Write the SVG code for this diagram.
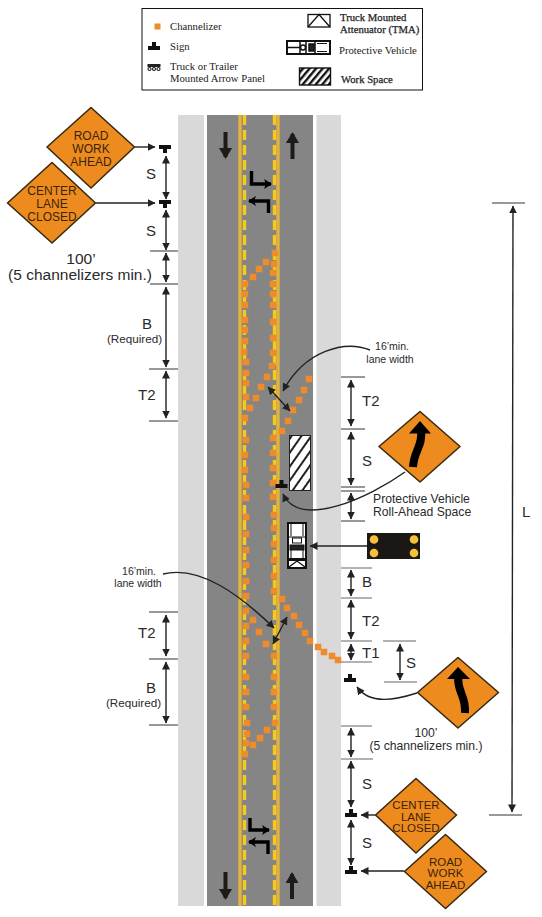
<svg xmlns="http://www.w3.org/2000/svg" width="542" height="917" viewBox="0 0 542 917">
<style>
text{font-family:"Liberation Sans",Arial,sans-serif;fill:#2a2a2a}
.lg{font-family:"Liberation Serif","Times New Roman",serif;font-size:10.7px;fill:#222}
.lgb{stroke:#222;stroke-width:.25}
.d{font-size:15px}
.m{font-size:15.5px;text-anchor:middle}
.s{font-size:12.2px}
.t{font-size:10.5px;text-anchor:middle}
.r{font-size:11.7px;text-anchor:middle}
.sg{font-size:12px;text-anchor:middle;fill:#3a2408}
.sg2{font-size:11.5px;text-anchor:middle;fill:#3a2408}
.dia{fill:#ee8b1f;stroke:#3a2a10;stroke-width:1.6;stroke-linejoin:round}
.tick{stroke:#333;stroke-width:1;fill:none}
.tg{stroke:#666;stroke-width:1;fill:none}
.dim{stroke:#222;stroke-width:1.4;fill:none;marker-start:url(#a);marker-end:url(#a)}
.lead{stroke:#222;stroke-width:1.4;fill:none;marker-end:url(#a)}
.big{stroke:#1d1a18;stroke-width:4;fill:none;marker-end:url(#b)}
.turn{stroke:#000;stroke-width:3.4;fill:none;marker-end:url(#c2)}
.solid{stroke:#e2b33c;stroke-width:3.4}
.dash{stroke:#f6c91a;stroke-width:3.4;stroke-dasharray:10 5}
.ch{fill:#ee8b2a}
</style>
<defs>
<marker id="a" viewBox="0 0 8 9" refX="7.500" refY="4.500" markerUnits="userSpaceOnUse" markerWidth="8" markerHeight="9" orient="auto-start-reverse"><path d="M0,0.500L8,4.500L0,8.500Z" fill="#222"/></marker>
<marker id="b" viewBox="0 0 11 13" refX="9" refY="6.500" markerUnits="userSpaceOnUse" markerWidth="11" markerHeight="13" orient="auto"><path d="M0,0L11,6.500L0,13Z" fill="#1d1a18"/></marker>
<marker id="c2" viewBox="0 0 8 10" refX="7" refY="5" markerUnits="userSpaceOnUse" markerWidth="8" markerHeight="10" orient="auto"><path d="M0,0L8,5L0,10L2,5Z" fill="#000"/></marker>
<rect id="c" x="-3.250" y="-3.250" width="6.500" height="6.500" class="ch"/>
<g id="sign"><rect x="-6" y="0" width="12" height="4" fill="#111"/><rect x="-2" y="-4" width="4" height="4" fill="#111"/></g>
<pattern id="h1" width="8" height="8" patternUnits="userSpaceOnUse" patternTransform="rotate(35)"><rect width="8" height="8" fill="#fff"/><rect width="2" height="8" fill="#222"/></pattern>
<pattern id="h2" width="5" height="5" patternUnits="userSpaceOnUse" patternTransform="rotate(40)"><rect width="5" height="5" fill="#fff"/><rect width="2.400" height="5" fill="#111"/></pattern>
</defs>

<g id="road">
<rect x="178" y="115" width="26" height="791" fill="#d9d9d9"/>
<rect x="316.500" y="115" width="24.500" height="791" fill="#d9d9d9"/>
<rect x="207" y="115" width="106" height="791" fill="#858585"/>
<path class="solid" d="M240,115V906M278,115V906"/>
<path class="dash" d="M244.500,115V906M274.500,115V906"/>
<path class="big" d="M225.500,132V157"/><path class="big" d="M292.500,159V134"/>
<path class="big" d="M225.500,872V898"/><path class="big" d="M292,899V874"/>
<path class="turn" d="M251.500,171V184H271"/><path class="turn" d="M268.500,213V201H249"/>
<path class="turn" d="M250,818V830H269"/><path class="turn" d="M268,854V842H249"/>
</g>

<g id="channelizers">
<use href="#c" x="275" y="253"/><use href="#c" x="266" y="262"/><use href="#c" x="259" y="269"/><use href="#c" x="253" y="277"/><use href="#c" x="245" y="284"/><use href="#c" x="274" y="264"/><use href="#c" x="273" y="273"/><use href="#c" x="273" y="284"/><use href="#c" x="273" y="294"/><use href="#c" x="273" y="305"/><use href="#c" x="245" y="294"/><use href="#c" x="245" y="305"/>
<use href="#c" x="245" y="320"/><use href="#c" x="245" y="330"/><use href="#c" x="245" y="341"/><use href="#c" x="244" y="352"/><use href="#c" x="246" y="362"/><use href="#c" x="246" y="373"/><use href="#c" x="246" y="383"/><use href="#c" x="246" y="397"/><use href="#c" x="245" y="418"/><use href="#c" x="246" y="440"/><use href="#c" x="245" y="455"/><use href="#c" x="245" y="470"/><use href="#c" x="246" y="485"/><use href="#c" x="246" y="498"/>
<use href="#c" x="273" y="322"/><use href="#c" x="273" y="338"/><use href="#c" x="273" y="353"/><use href="#c" x="272" y="366"/><use href="#c" x="267" y="377"/><use href="#c" x="261" y="387"/><use href="#c" x="256" y="398"/><use href="#c" x="250" y="408"/>
<use href="#c" x="309" y="379"/><use href="#c" x="304" y="390"/><use href="#c" x="299" y="400"/><use href="#c" x="293" y="410"/><use href="#c" x="288" y="421"/><use href="#c" x="282" y="431"/><use href="#c" x="273" y="438"/><use href="#c" x="273" y="453"/><use href="#c" x="273" y="468"/><use href="#c" x="273" y="483"/><use href="#c" x="273" y="497"/>
<use href="#c" x="246" y="517"/><use href="#c" x="246" y="534"/><use href="#c" x="246" y="550"/><use href="#c" x="246" y="565"/><use href="#c" x="246" y="581"/><use href="#c" x="246" y="596"/><use href="#c" x="246" y="611"/><use href="#c" x="246" y="626"/><use href="#c" x="246" y="641"/><use href="#c" x="246" y="656"/><use href="#c" x="246" y="677"/><use href="#c" x="246" y="692"/><use href="#c" x="246" y="707"/><use href="#c" x="247" y="723"/><use href="#c" x="247" y="734"/><use href="#c" x="246" y="743"/><use href="#c" x="245" y="754"/>
<use href="#c" x="274" y="515"/><use href="#c" x="274" y="528"/><use href="#c" x="274" y="544"/><use href="#c" x="274" y="560"/><use href="#c" x="274" y="576"/><use href="#c" x="274" y="591"/><use href="#c" x="274" y="656"/><use href="#c" x="274" y="677"/><use href="#c" x="274" y="692"/><use href="#c" x="274" y="707"/><use href="#c" x="275" y="723"/>
<use href="#c" x="267" y="730"/><use href="#c" x="260" y="738"/><use href="#c" x="253" y="745"/><use href="#c" x="253" y="620"/><use href="#c" x="259" y="632"/><use href="#c" x="266" y="644"/>
<use href="#c" x="282" y="599"/><use href="#c" x="287" y="608"/><use href="#c" x="294" y="616"/><use href="#c" x="299" y="625"/><use href="#c" x="305" y="633"/><use href="#c" x="310" y="641"/><use href="#c" x="318" y="647"/><use href="#c" x="324" y="652"/><use href="#c" x="332" y="656"/><use href="#c" x="338" y="660"/>
</g>

<g id="connectors">
<path class="tick" d="M150,251H178M150,284H178M149,369H178M149,421H178M149,612H178M149,659H178M149,725H178"/>
<path class="tick" d="M341,377H365M341,429H365M341,487H365M341,491H365M341,521H365"/>
<path class="tg" d="M341,568H372M341,598H372M341,641H372M341,662H372M383,641H416M384,682H417M341,726H372M341,759H373"/>
<path class="tick" d="M492,203H525M489,815H522"/>
<path class="dim" d="M166,156V199"/><path class="dim" d="M166,210V250"/><path class="dim" d="M166,253V282"/><path class="dim" d="M166,287V367"/><path class="dim" d="M166,371V418"/>
<path class="dim" d="M166,615V656"/><path class="dim" d="M166,662V723"/>
<path class="dim" d="M351,380V426"/><path class="dim" d="M351,432V485"/><path class="dim" d="M351,493V519"/>
<path class="dim" d="M351,570V596"/><path class="dim" d="M351,600V639"/><path class="dim" d="M351,644V660"/><path class="dim" d="M400,644V680"/>
<path class="dim" d="M351,728V757"/><path class="dim" d="M351,761V807"/><path class="dim" d="M351,820V865"/>
<path class="dim" d="M513,206L512,812"/>
<path class="dim" d="M268,387L290,411"/><path class="dim" d="M287,617L273,644"/>
<path class="lead" d="M135,147H155"/><path class="lead" d="M96,203H155"/>
<path class="lead" d="M375,815H361"/><path class="lead" d="M404,871H361"/>
<path class="lead" d="M367,546H310"/>
<path class="lead" d="M370,350C345,340 305,350 283,391"/>
<path class="lead" d="M405,472C370,497 300,530 283,494"/>
<path class="lead" d="M163,574C200,565 240,595 274,628"/>
<path class="lead" d="M417,693C395,700 370,705 357,687"/>
</g>

<g id="work-space"><rect x="289.500" y="435.500" width="21" height="55" fill="url(#h1)" stroke="#222" stroke-width="1"/></g>
<g id="work-sign"><use href="#sign" x="281.500" y="484"/></g>

<g id="vehicle" fill="none" stroke="#111" stroke-width="1">
<rect x="288" y="523" width="18" height="36" fill="#fff" stroke-width="2"/>
<path d="M291,524V536M303,524V536M289,537H305M291,549V558M303,549V558"/>
<rect x="292.500" y="538" width="9" height="5" fill="#fff"/>
<rect x="290" y="545" width="14" height="5" fill="#222"/>
<rect x="288" y="560" width="18" height="8" fill="#fff" stroke-width="2"/>
<path d="M289,567L297,561L305,567" stroke-width="1.300"/>
</g>

<g id="arrow-panel">
<rect x="367" y="533" width="53" height="26" fill="#1a1715"/>
<circle cx="374" cy="539.500" r="4.300" fill="#f3c13a"/><circle cx="374" cy="553" r="4.300" fill="#f3c13a"/><circle cx="414" cy="539.500" r="4.300" fill="#f3c13a"/><circle cx="414" cy="553" r="4.300" fill="#f3c13a"/>
</g>

<g id="signs-posts">
<g transform="translate(165,145) rotate(180) translate(0,-4)"><use href="#sign"/></g>
<g transform="translate(165,200) rotate(180) translate(0,-4)"><use href="#sign"/></g>
<use href="#sign" x="350" y="678"/><use href="#sign" x="351" y="813"/><use href="#sign" x="351" y="870"/>
</g>

<g id="sign-rwa-top">
<polygon class="dia" points="91,107.500 134.500,147 91,188 47,147"/>
<text class="sg" x="91" y="140">ROAD</text><text class="sg" x="91" y="153">WORK</text><text class="sg" x="91" y="166">AHEAD</text>
</g>
<g id="sign-clc-top">
<polygon class="dia" points="52,162.500 95.500,203 52,243 7.500,203"/>
<text class="sg" x="52" y="195">CENTER</text><text class="sg" x="52" y="208">LANE</text><text class="sg" x="52" y="221">CLOSED</text>
</g>
<g id="sign-reverse-upper">
<polygon class="dia" points="420,411.500 460,446.500 420,482 379,446.500"/>
<path d="M421,431C423,446 414,450 413,467" stroke="#000" stroke-width="8" fill="none"/>
<polygon points="420,421 431,433.500 409,433.500" fill="#000"/>
</g>
<g id="sign-reverse-lower">
<polygon class="dia" points="458,657.500 498.500,692.500 458,728 417.500,692.500"/>
<path d="M458,677C458,695 466,695 465,713" stroke="#000" stroke-width="8" fill="none"/>
<polygon points="458,667 470,679 447,679" fill="#000"/>
</g>
<g id="sign-clc-bottom">
<polygon class="dia" points="416,778.500 456.500,815 416,853 375.500,815"/>
<text class="sg2" x="416" y="809">CENTER</text><text class="sg2" x="416" y="821">LANE</text><text class="sg2" x="416" y="832">CLOSED</text>
</g>
<g id="sign-rwa-bottom">
<polygon class="dia" points="445.500,834.500 486.500,871.500 445.500,908.500 404.500,871.500"/>
<text class="sg2" x="445.500" y="866">ROAD</text><text class="sg2" x="445.500" y="877">WORK</text><text class="sg2" x="445.500" y="889">AHEAD</text>
</g>

<g id="labels">
<text class="d" x="146" y="179">S</text><text class="d" x="146" y="236">S</text>
<text class="m" x="81" y="264">100’</text><text class="m" x="80" y="280">(5 channelizers min.)</text>
<text class="d" x="142" y="329">B</text><text class="r" x="134.500" y="343">(Required)</text>
<text class="d" x="138" y="400">T2</text>
<text class="t" x="139" y="575">16’min.</text><text class="t" x="138" y="587">lane width</text>
<text class="d" x="138" y="638">T2</text>
<text class="d" x="146" y="693">B</text><text class="r" x="133.500" y="707">(Required)</text>
<text class="t" x="392" y="350">16’min.</text><text class="t" x="390" y="363">lane width</text>
<text class="d" x="362" y="406">T2</text><text class="d" x="362" y="466">S</text>
<text class="s" x="373" y="503">Protective Vehicle</text><text class="s" x="373" y="516">Roll-Ahead Space</text>
<text class="d" x="362" y="587">B</text><text class="d" x="362" y="626">T2</text><text class="d" x="362" y="658">T1</text><text class="d" x="406" y="668">S</text>
<text class="s" x="426" y="737" text-anchor="middle">100’</text><text class="s" x="426" y="750" text-anchor="middle">(5 channelizers min.)</text>
<text class="d" x="362" y="789">S</text><text class="d" x="362" y="848">S</text>
<text class="d" x="522" y="517">L</text>
</g>

<g id="legend">
<rect x="142" y="8.500" width="280.500" height="81.500" fill="#fff" stroke="#111" stroke-width="1"/>
<rect x="154.500" y="23.500" width="6" height="6" class="ch"/>
<text class="lg" x="170" y="30">Channelizer</text>
<use href="#sign" x="154" y="46"/>
<text class="lg" x="170" y="50">Sign</text>
<rect x="147.500" y="64" width="13" height="3" fill="#222"/>
<g fill="none" stroke="#222" stroke-width="1.200"><circle cx="149.500" cy="69" r="1.500"/><circle cx="154" cy="69" r="1.500"/><circle cx="158.500" cy="69" r="1.500"/></g>
<text class="lg" x="170" y="70">Truck or Trailer</text><text class="lg" x="170" y="82">Mounted Arrow Panel</text>
<g fill="none" stroke="#111" stroke-width="1.300"><rect x="308" y="14.500" width="22" height="12.500"/><path d="M308,27L319,14.500L330,27"/></g>
<text class="lg lgb" x="340" y="21">Truck Mounted</text><text class="lg lgb" x="340" y="33">Attenuator (TMA)</text>
<g fill="none" stroke="#111" stroke-width="1.500"><rect x="287" y="41" width="43" height="13" fill="#fff" stroke-width="2"/><path d="M288,47.500H300M300,41V54M306,41V54M315,41V54"/><circle cx="303" cy="47.500" r="2.500"/><rect x="309" y="44" width="5" height="7" fill="#222"/><path d="M317,43.500H327M317,51.500H327" stroke-width="1"/></g>
<text class="lg" x="339" y="54">Protective Vehicle</text>
<rect x="299.500" y="68" width="31" height="17" fill="url(#h2)" stroke="#111" stroke-width="1.400"/>
<text class="lg lgb" x="341" y="83">Work Space</text>
</g>
</svg>
